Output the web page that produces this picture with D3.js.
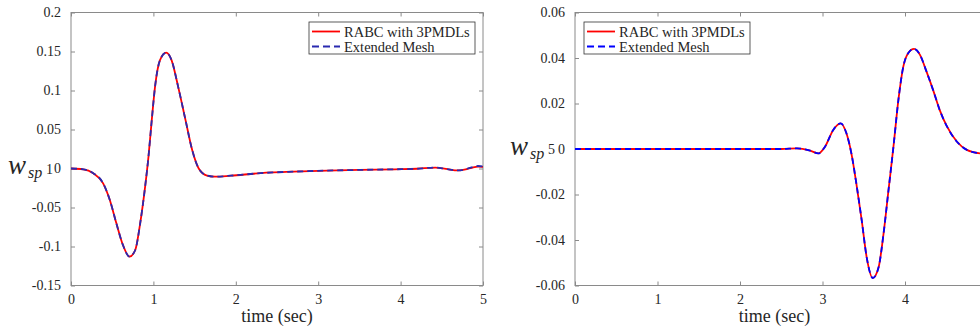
<!DOCTYPE html>
<html>
<head>
<meta charset="utf-8">
<script src="https://cdn.jsdelivr.net/npm/d3@7"></script>
<style>
  html, body { margin: 0; padding: 0; background: #fff; }
  svg { display: block; }
  text { font-family: "Liberation Serif", "Times New Roman", serif; fill: #262626; }
</style>
</head>
<body>
<svg id="chart" width="980" height="329"></svg>
<script>
// ---- data ----
const xTicks = [0, 1, 2, 3, 4, 5];
const yTicksLeft = [-0.15, -0.1, -0.05, 0, 0.05, 0.1, 0.15, 0.2];
const yTicksRight = [-0.06, -0.04, -0.02, 0, 0.02, 0.04, 0.06];
const seriesNames = ["RABC with 3PMDLs", "Extended Mesh"];
const xLabel = "time (sec)";

// left panel: w_sp 1
const tLeft = [0, 0.15, 0.27, 0.39, 0.47, 0.55, 0.63, 0.71, 0.78, 0.84, 0.90, 0.94, 0.98, 1.02, 1.08, 1.155, 1.22, 1.30, 1.39, 1.47, 1.55, 1.65, 1.75, 1.94, 2.30, 2.70, 3.11, 3.50, 3.93, 4.20, 4.42, 4.55, 4.70, 4.85, 4.94, 5.0];
const rabcLeft = [0, -0.001, -0.006, -0.019, -0.040, -0.070, -0.098, -0.113, -0.1045, -0.070, -0.023, 0.015, 0.062, 0.105, 0.139, 0.1485, 0.139, 0.105, 0.062, 0.024, 0.0, -0.009, -0.0105, -0.0092, -0.006, -0.004, -0.0027, -0.0018, -0.001, -0.0003, 0.0012, -0.0005, -0.0025, 0.0005, 0.0025, 0.002];
const meshLeft = [0, -0.001, -0.006, -0.019, -0.040, -0.070, -0.098, -0.113, -0.1045, -0.070, -0.023, 0.015, 0.062, 0.105, 0.139, 0.1485, 0.139, 0.105, 0.062, 0.024, 0.0, -0.009, -0.0105, -0.0092, -0.006, -0.004, -0.0027, -0.0018, -0.001, -0.0003, 0.0012, -0.0005, -0.0025, 0.001, 0.0032, 0.0025];

// right panel: w_sp 5
const tRight = [0, 2.5, 2.69, 2.85, 2.95, 3.03, 3.13, 3.22, 3.29, 3.35, 3.41, 3.475, 3.535, 3.61, 3.68, 3.74, 3.80, 3.86, 3.92, 3.98, 4.04, 4.11, 4.18, 4.26, 4.34, 4.42, 4.51, 4.63, 4.75, 4.91, 5.0];
const rabcRight = [0, 0, 0.0003, -0.0007, -0.0019, 0.001, 0.0084, 0.0113, 0.0069, -0.0019, -0.0151, -0.0313, -0.0475, -0.0567, -0.052, -0.0372, -0.0181, 0.001, 0.0216, 0.0363, 0.0422, 0.044, 0.0415, 0.0341, 0.026, 0.0172, 0.0098, 0.0032, -0.0004, -0.0019, -0.0021];
const meshRight = [0, 0, 0.0003, -0.0007, -0.0019, 0.001, 0.0084, 0.0113, 0.0069, -0.0019, -0.0151, -0.0313, -0.0475, -0.0567, -0.052, -0.0372, -0.0181, 0.001, 0.0216, 0.0363, 0.0422, 0.044, 0.0415, 0.0341, 0.026, 0.0172, 0.0098, 0.0032, -0.0004, -0.0019, -0.0021];

// ---- drawing ----
const svg = d3.select("#chart");
const axisColor = "#8a8a8a";
const plotTop = 12.5, plotBottom = 285.5;
const serif = '"Liberation Serif", "Times New Roman", serif';

function panel(cfg) {
  const x = d3.scaleLinear().domain([0, 5]).range([cfg.left, cfg.right]);
  const y = d3.scaleLinear().domain(cfg.yDomain).range([plotBottom, plotTop]);
  const g = svg.append("g");
  const id = "clip" + cfg.key;
  svg.append("clipPath").attr("id", id).append("rect")
    .attr("x", cfg.left).attr("y", plotTop).attr("width", cfg.right - cfg.left).attr("height", plotBottom - plotTop);

  const fmt = d => String(d);
  // only label x ticks that fall inside the window
  const xFmt = d => (x(d) + 4 <= 980 ? String(d) : "");
  const ax = [
    g.append("g").attr("transform", `translate(0,${plotBottom})`)
      .call(d3.axisBottom(x).tickValues(xTicks).tickFormat(xFmt).tickSizeInner(-4).tickSizeOuter(0).tickPadding(8.5)),
    g.append("g").attr("transform", `translate(0,${plotTop})`)
      .call(d3.axisTop(x).tickValues(xTicks).tickFormat("").tickSizeInner(-4).tickSizeOuter(0)),
    g.append("g").attr("transform", `translate(${cfg.left},0)`)
      .call(d3.axisLeft(y).tickValues(cfg.yTicks).tickFormat(fmt).tickSizeInner(-4).tickSizeOuter(0).tickPadding(10)),
    g.append("g").attr("transform", `translate(${cfg.right},0)`)
      .call(d3.axisRight(y).tickValues(cfg.yTicks).tickFormat("").tickSizeInner(-4).tickSizeOuter(0))
  ];
  ax.forEach(a => {
    a.attr("font-family", null).attr("font-size", null);
    a.select(".domain").remove();
    a.selectAll(".tick line").attr("stroke", axisColor);
    a.selectAll("text").style("font-size", "14px").style("fill", "#262626")
      .style("font-family", serif);
  });
  g.append("rect").attr("x", cfg.left).attr("y", plotTop)
    .attr("width", cfg.right - cfg.left).attr("height", plotBottom - plotTop)
    .attr("fill", "none").attr("stroke", axisColor).attr("stroke-width", 1);

  const line = d3.line().x(d => x(d[0])).y(d => y(d[1])).curve(d3.curveMonotoneX);
  const cg = g.append("g").attr("clip-path", `url(#${id})`);
  cg.append("path").datum(cfg.t.map((t, i) => [t, cfg.a[i]])).attr("d", line)
    .attr("fill", "none").attr("stroke", "#ff0000").attr("stroke-width", 1.8);
  cg.append("path").datum(cfg.t.map((t, i) => [t, cfg.b[i]])).attr("d", line)
    .attr("fill", "none").attr("stroke", cfg.blue).attr("stroke-width", 1.8).attr("stroke-dasharray", "6,4");

  // x label
  g.append("text").attr("x", (cfg.left + Math.min(cfg.right, 980)) / 2 + (cfg.key === "R" ? -3 : 0)).attr("y", 322)
    .attr("text-anchor", "middle").style("font-size", "18px").text(xLabel);

  // y label: w_sp N
  const y0 = y(0);
  g.append("text").attr("x", cfg.labX).attr("y", y0 + 5.5).style("font-size", "27px")
    .attr("font-style", "italic").text("w");
  g.append("text").attr("x", cfg.labX + 20).attr("y", y0 + 9.5).style("font-size", "16px")
    .attr("font-style", "italic").text("sp");
  g.append("text").attr("x", cfg.labX + 38).attr("y", y0 + 5).style("font-size", "14px").text(cfg.idx);

  // legend
  const lg = g.append("g").attr("transform", `translate(${cfg.legX},22)`);
  lg.append("rect").attr("width", 166).attr("height", 32).attr("fill", "#fff")
    .attr("stroke", "#333").attr("stroke-width", 0.8);
  lg.append("line").attr("x1", 3).attr("x2", 31).attr("y1", 9.5).attr("y2", 9.5)
    .attr("stroke", "#ff0000").attr("stroke-width", 1.8);
  lg.append("line").attr("x1", 3).attr("x2", 31).attr("y1", 24.5).attr("y2", 24.5)
    .attr("stroke", cfg.blue).attr("stroke-width", 1.8).attr("stroke-dasharray", "7,4");
  lg.append("text").attr("x", 35).attr("y", 14.5).style("font-size", "14.5px").text(seriesNames[0]);
  lg.append("text").attr("x", 35).attr("y", 29.5).style("font-size", "14.5px").text(seriesNames[1]);
}

panel({ key: "L", left: 71, right: 483, yDomain: [-0.15, 0.2], yTicks: yTicksLeft,
        t: tLeft, a: rabcLeft, b: meshLeft, labX: 8, idx: "1", legX: 309, blue: "#2a2ab0" });
panel({ key: "R", left: 575, right: 987.5, yDomain: [-0.06, 0.06], yTicks: yTicksRight,
        t: tRight, a: rabcRight, b: meshRight, labX: 510, idx: "5", legX: 584, blue: "#0000ff" });
</script>
</body>
</html>
